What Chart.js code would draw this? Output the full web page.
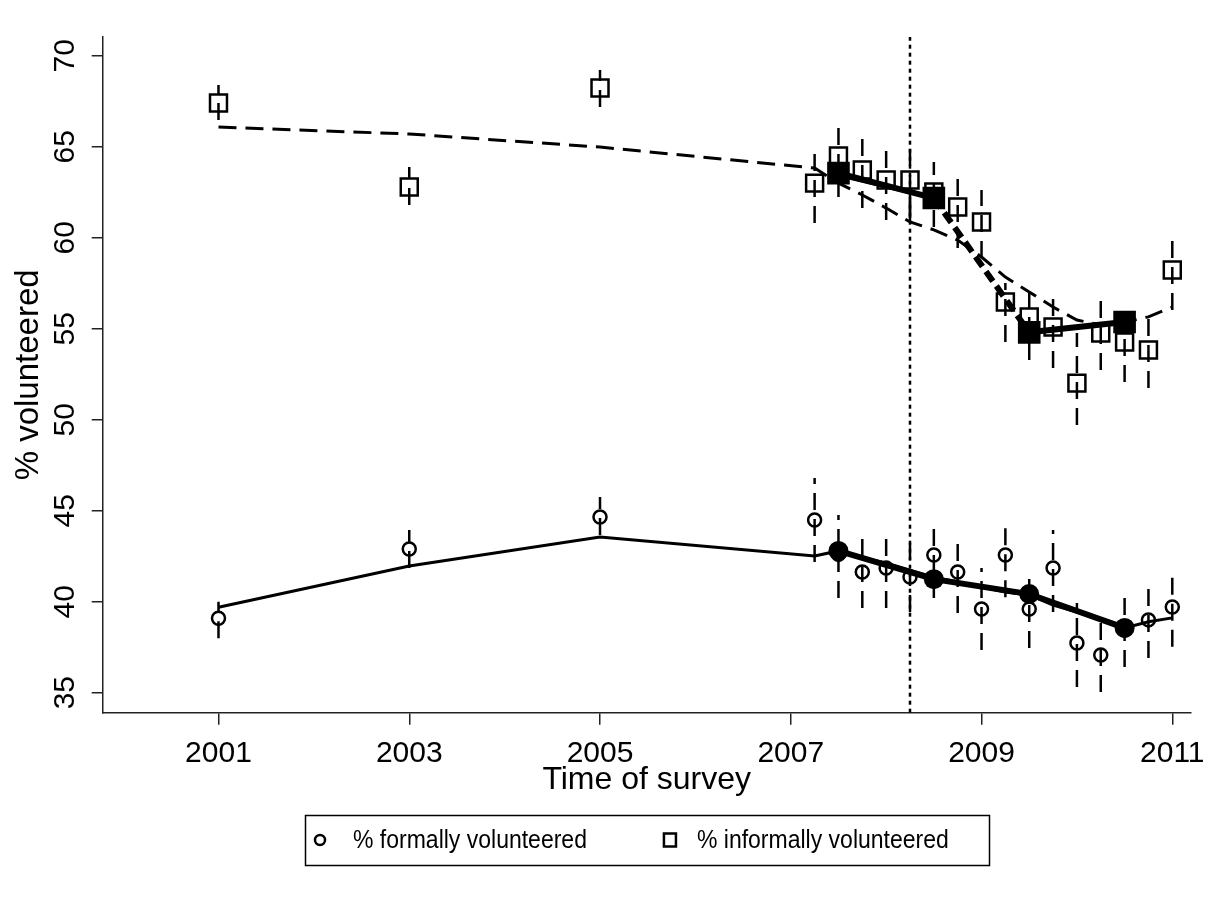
<!DOCTYPE html>
<html>
<head>
<meta charset="utf-8">
<title>% volunteered by time of survey</title>
<script src="https://cdn.jsdelivr.net/npm/chart.js@4.4.1/dist/chart.umd.min.js"></script>
<style>
  html, body { margin: 0; padding: 0; background: #fff; }
  canvas { display: block; }
</style>
</head>
<body>
<canvas id="chart" width="1220" height="904"></canvas>
<script>
// survey dates (quarterly from 2007)
const years = [2001, 2003, 2005, 2007.25, 2007.5, 2007.75, 2008, 2008.25, 2008.5, 2008.75,
  2009, 2009.25, 2009.5, 2009.75, 2010, 2010.25, 2010.5, 2010.75, 2011];

// % formally volunteered, with 95% CI
const formal   = [39.09, 42.9, 44.65, 44.49, 42.6, 41.63, 41.85, 41.36, 42.57, 41.63,
  39.6, 42.57, 39.6, 41.85, 37.73, 37.07, 38.45, 39.0, 39.71];
const formalLo = [37.99, 41.85, 43.66, 42.18, 40.2, 39.65, 39.65, 39.43, 40.2, 39.38,
  37.35, 40.25, 37.46, 39.43, 35.31, 35.04, 36.41, 36.9, 37.52];
const formalHi = [40.0, 43.94, 45.75, 46.8, 44.76, 43.66, 43.66, 43.39, 44.32, 43.39,
  41.85, 44.32, 41.47, 43.94, 39.93, 38.83, 40.48, 41.03, 41.58];
const formalFit = [39.69, 41.96, 43.55, 42.51, 42.79, 42.4, 42.13, 41.73, 41.35, 41.08,
  40.81, 40.53, 40.37, 39.82, 39.43, 39.0, 38.56, 38.9, 39.11];

// % informally volunteered, with 95% CI
const informal   = [67.4, 62.79, 68.23, 63.0, 64.49, 63.72, 63.17, 63.17, 62.51, 61.69,
  60.86, 56.47, 55.64, 55.09, 52.01, 54.76, 54.27, 53.83, 58.23];
const informalLo = [66.47, 61.8, 67.18, 60.81, 62.24, 61.63, 60.98, 61.08, 60.59, 59.43,
  58.89, 54.27, 53.28, 52.84, 49.71, 52.73, 52.07, 51.74, 56.03];
const informalHi = [68.39, 63.88, 69.21, 64.71, 66.19, 65.64, 65.04, 65.09, 64.16, 63.45,
  62.62, 57.51, 56.96, 56.74, 54.76, 56.68, 55.48, 55.64, 60.04];
const informalFit = [66.08, 65.7, 64.98, 63.83, 63.0, 62.35, 61.63, 60.87, 60.43, 59.87,
  58.94, 57.84, 57.02, 56.19, 55.48, 55.2, 55.37, 55.65, 56.19];

// pre-recession trend with the break at the recession start
const stepYears = [2007.5, 2008.25, 2008.25];
const informalStep = [63.4, 62.46, 60.87];

// yearly means
const meanYears = [2007.5, 2008.5, 2009.5, 2010.5];
const formalMean = [42.79, 41.24, 40.42, 38.56];
const informalMean = [63.55, 62.18, 54.8, 55.37];

const recessionStart = 2008.25;

const xTicks = [2001, 2003, 2005, 2007, 2009, 2011];
const yTicks = [35, 40, 45, 50, 55, 60, 65, 70];
const xRange = [1999.786, 2011.193];
const yRange = [33.9, 71.03];

const legendLabels = ['% formally volunteered', '% informally volunteered'];

const FONT = '"Liberation Sans", Arial, Helvetica, sans-serif';

function points(xs, ys) {
  return xs.map((x, i) => ({ x: x, y: ys[i] }));
}

// vertical CI spikes, separated by gaps
function spikes(xs, lo, hi) {
  const out = [];
  xs.forEach((x, i) => {
    out.push({ x: x, y: lo[i] }, { x: x, y: hi[i] }, { x: x, y: null });
  });
  return out;
}

// legend in a box below the x axis (text a little condensed, like the original)
const boxLegend = {
  id: 'boxLegend',
  afterDraw(chart) {
    const { ctx, chartArea } = chart;
    const squeeze = 0.92;
    ctx.save();
    ctx.font = '25px ' + FONT;
    const w1 = ctx.measureText(legendLabels[0]).width * squeeze;
    const w2 = ctx.measureText(legendLabels[1]).width * squeeze;
    const total = 48 + w1 + 83 + 27 + w2 + 40;
    const cx = (chartArea.left + chartArea.right) / 2;
    const left = Math.round(cx - total / 2);
    const top = Math.round(chartArea.bottom + 102);
    const h = 50;
    const midY = top + h / 2;

    ctx.strokeStyle = '#000';
    ctx.lineWidth = 1.5;
    ctx.strokeRect(left + 0.5, top + 0.5, Math.round(total), h);

    // circle marker
    ctx.lineWidth = 2.5;
    ctx.beginPath();
    ctx.arc(left + 15, midY, 5, 0, Math.PI * 2);
    ctx.stroke();

    // square marker
    const sqX = left + 48 + w1 + 83;
    ctx.strokeRect(sqX - 6, midY - 6.5, 12, 13);

    ctx.fillStyle = '#000';
    ctx.textBaseline = 'middle';
    ctx.textAlign = 'left';
    [[legendLabels[0], left + 48], [legendLabels[1], sqX + 27]].forEach(([t, x]) => {
      ctx.save();
      ctx.translate(x, midY + 1);
      ctx.scale(squeeze, 1);
      ctx.fillText(t, 0, 0);
      ctx.restore();
    });
    ctx.restore();
  }
};

const ctx = document.getElementById('chart').getContext('2d');

new Chart(ctx, {
  type: 'scatter',
  data: {
    datasets: [
      {
        label: 'formal yearly mean',
        data: points(meanYears, formalMean),
        showLine: true,
        borderColor: '#000',
        borderWidth: 6,
        pointStyle: 'circle',
        pointRadius: 10,
        pointBackgroundColor: '#000',
        pointBorderWidth: 0
      },
      {
        label: 'informal yearly mean',
        data: points(meanYears, informalMean),
        showLine: true,
        borderColor: '#000',
        borderWidth: 6,
        segment: {
          borderDash: c => (c.p0DataIndex === 1 ? [12, 6] : undefined)
        },
        pointStyle: 'rect',
        pointRadius: 16,
        pointBackgroundColor: '#000',
        pointBorderWidth: 0
      },
      {
        label: legendLabels[0],
        data: points(years, formal),
        pointStyle: 'circle',
        pointRadius: 6.5,
        pointBorderWidth: 2.5,
        pointBorderColor: '#000',
        pointBackgroundColor: 'rgba(0,0,0,0)'
      },
      {
        label: legendLabels[1],
        data: points(years, informal),
        pointStyle: 'rect',
        pointRadius: 12,
        pointBorderWidth: 2.5,
        pointBorderColor: '#000',
        pointBackgroundColor: 'rgba(0,0,0,0)'
      },
      {
        label: 'formal fit',
        data: points(years, formalFit),
        showLine: true,
        borderColor: '#000',
        borderWidth: 3,
        pointRadius: 0
      },
      {
        label: 'informal fit',
        data: points(years, informalFit),
        showLine: true,
        borderColor: '#000',
        borderWidth: 3,
        borderDash: [18, 9],
        pointRadius: 0
      },
      {
        label: 'informal pre-recession trend',
        data: points(stepYears, informalStep),
        showLine: true,
        borderColor: '#000',
        borderWidth: 2.5,
        pointRadius: 0
      },
      {
        label: 'formal CI',
        data: spikes(years, formalLo, formalHi),
        showLine: true,
        borderColor: '#000',
        borderWidth: 2.5,
        borderDash: [17, 9],
        pointRadius: 0
      },
      {
        label: 'informal CI',
        data: spikes(years, informalLo, informalHi),
        showLine: true,
        borderColor: '#000',
        borderWidth: 2.5,
        borderDash: [17, 9],
        pointRadius: 0
      },
      {
        label: 'recession start',
        data: [{ x: recessionStart, y: yRange[0] }, { x: recessionStart, y: yRange[1] }],
        showLine: true,
        borderColor: '#000',
        borderWidth: 2.5,
        borderDash: [4, 4],
        pointRadius: 0
      }
    ]
  },
  options: {
    responsive: false,
    animation: false,
    devicePixelRatio: 1,
    layout: {
      padding: { left: 0, right: 29.3, top: 37, bottom: 104.3 }
    },
    plugins: {
      legend: { display: false },
      tooltip: { enabled: false }
    },
    scales: {
      x: {
        type: 'linear',
        min: xRange[0],
        max: xRange[1],
        afterBuildTicks: s => { s.ticks = xTicks.map(v => ({ value: v })); },
        afterFit: s => { s.height = 87; },
        grid: { display: true, drawOnChartArea: false, drawTicks: true, tickLength: 12, color: '#222', lineWidth: 1.5 },
        border: { display: true, color: '#222', width: 1.5 },
        ticks: {
          color: '#000',
          font: { family: FONT, size: 30 },
          padding: 11,
          maxRotation: 0,
          callback: v => String(v)
        },
        title: {
          display: true,
          text: 'Time of survey',
          color: '#000',
          font: { family: FONT, size: 32 },
          padding: { top: 0, bottom: 0 }
        }
      },
      y: {
        type: 'linear',
        min: yRange[0],
        max: yRange[1],
        afterBuildTicks: s => { s.ticks = yTicks.map(v => ({ value: v })); },
        afterFit: s => { s.width = 102.7; },
        grid: { display: true, drawOnChartArea: false, drawTicks: true, tickLength: 11, color: '#222', lineWidth: 1.5 },
        border: { display: true, color: '#222', width: 1.5 },
        ticks: {
          color: '#000',
          font: { family: FONT, size: 30 },
          padding: 9,
          minRotation: 90,
          maxRotation: 90,
          crossAlign: 'center',
          callback: v => String(v)
        },
        title: {
          display: true,
          text: '% volunteered',
          color: '#000',
          font: { family: FONT, size: 33 },
          padding: { top: 9, bottom: 0 }
        }
      }
    }
  },
  plugins: [boxLegend]
});
</script>
</body>
</html>
